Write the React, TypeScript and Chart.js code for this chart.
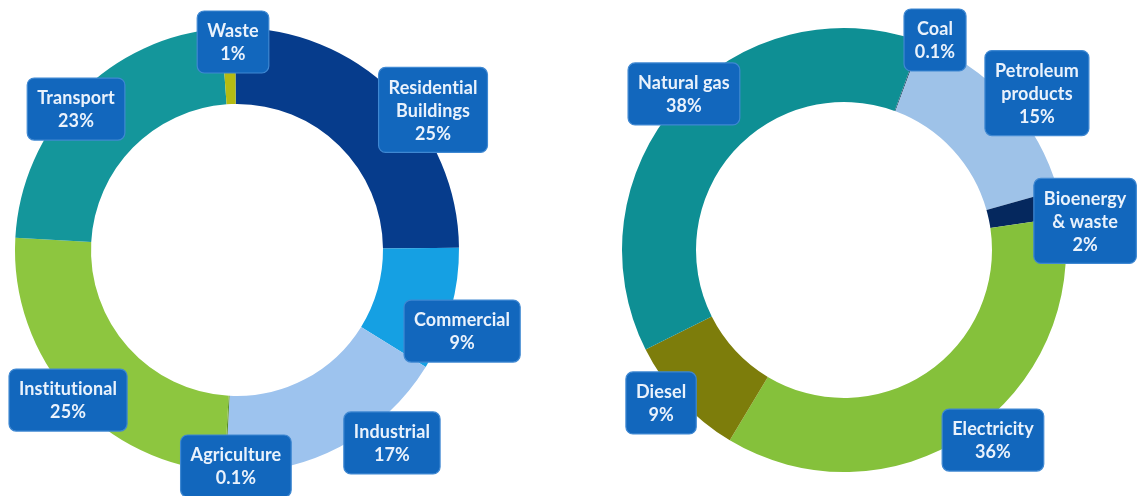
import React, { useEffect, useRef } from "react";
import { Chart, registerables } from "chart.js";

Chart.register(...registerables);

// ---- Data: energy use by sector (left ring) ----
const sectorNames = ["Residential Buildings", "Commercial", "Industrial", "Agriculture", "Institutional", "Transport", "Waste"];
const sectorTagLines = [["Residential", "Buildings"], ["Commercial"], ["Industrial"], ["Agriculture"], ["Institutional"], ["Transport"], ["Waste"]];
const sectorValues = [25, 9, 17, 0.1, 25, 23, 1];
const sectorColors = ["#063c8c", "#15a0e3", "#9dc3ee", "#5b8f2a", "#8dc63f", "#14969b", "#b4bb13"];

// ---- Data: energy use by fuel (right ring) ----
const fuelNames = ["Coal", "Petroleum products", "Bioenergy & waste", "Electricity", "Diesel", "Natural gas"];
const fuelTagLines = [["Coal"], ["Petroleum", "products"], ["Bioenergy", "& waste"], ["Electricity"], ["Diesel"], ["Natural gas"]];
const fuelValues = [0.1, 15, 2, 36, 9, 38];
const fuelColors = ["#3a5a7a", "#9ec2e8", "#05285e", "#85c13b", "#7d7d0b", "#0e8f94"];

// ---- Label placement (relative to ring centre, in units of outer radius) ----
const sectorTagPos = [[0.883, -0.631], [1.014, 0.365], [0.698, 0.869], [-0.005, 0.973], [-0.761, 0.676], [-0.725, -0.635], [-0.018, -0.937]];
const fuelTagPos = [[0.41, -0.946], [0.869, -0.707], [1.086, -0.131], [0.671, 0.856], [-0.824, 0.689], [-0.721, -0.703]];

const tagPlugin = {
  id: "tags",
  afterDatasetsDraw(chart: any, _args: any, opts: any) {
    const meta = chart.getDatasetMeta(0);
    const ctx = chart.ctx as CanvasRenderingContext2D;
    const values = chart.data.datasets[0].data as number[];
    const fontSize = 18;
    const lineH = 23;
    const padX = 10;
    const padY = 8;
    ctx.save();
    ctx.font = `bold ${fontSize}px Lato, "DejaVu Sans", sans-serif`;
    (ctx as any).letterSpacing = "0.1px";
    ctx.textAlign = "center";
    ctx.textBaseline = "middle";
    meta.data.forEach((arc: any, i: number) => {
      const p = arc.getProps(["x", "y", "outerRadius"], true);
      const pos = opts.pos[i];
      const cx = p.x + pos[0] * p.outerRadius;
      const cy = p.y + pos[1] * p.outerRadius;
      const lines = [...opts.lines[i], String(values[i]) + "%"];
      let tw = 0;
      lines.forEach((l: string) => {
        tw = Math.max(tw, ctx.measureText(l).width);
      });
      const w = Math.max(tw + 2 * padX, 62);
      const h = lines.length * lineH + 2 * padY;
      const x0 = cx - w / 2;
      const y0 = cy - h / 2;
      ctx.beginPath();
      (ctx as any).roundRect(x0, y0, w, h, 7);
      ctx.fillStyle = "#1267bd";
      ctx.fill();
      ctx.lineWidth = 1.2;
      ctx.strokeStyle = "#3f88d2";
      ctx.stroke();
      ctx.fillStyle = "#eaf2fc";
      lines.forEach((l: string, k: number) => {
        ctx.fillText(l, cx, y0 + padY + lineH * (k + 0.5) + 1);
      });
    });
    ctx.restore();
  },
};

function Ring(props: {
  names: string[];
  values: number[];
  colors: string[];
  lines: string[][];
  pos: number[][];
  rotation: number;
  cutout: number;
  padding: { left: number; right: number; top: number; bottom: number };
  left: number;
}) {
  const ref = useRef<HTMLCanvasElement | null>(null);
  useEffect(() => {
    if (!ref.current) return;
    const chart = new Chart(ref.current, {
      type: "doughnut",
      data: {
        labels: props.names,
        datasets: [
          {
            data: props.values,
            backgroundColor: props.colors,
            borderWidth: 0,
          },
        ],
      },
      options: {
        responsive: false,
        animation: false,
        rotation: props.rotation,
        cutout: props.cutout,
        layout: { padding: props.padding },
        plugins: {
          legend: { display: false },
          tooltip: { enabled: false },
          tags: { lines: props.lines, pos: props.pos },
        } as any,
      },
      plugins: [tagPlugin as any],
    });
    return () => chart.destroy();
  }, []);
  return (
    <canvas
      ref={ref}
      width={569}
      height={496}
      style={{ position: "absolute", left: props.left, top: 0, width: 569, height: 496 }}
    />
  );
}

export default function App() {
  return (
    <div style={{ position: "absolute", left: 0, top: 0, width: 1138, height: 496, background: "#ffffff", overflow: "hidden" }}>
      <Ring
        names={sectorNames}
        values={sectorValues}
        colors={sectorColors}
        lines={sectorTagLines}
        pos={sectorTagPos}
        rotation={-0.5}
        cutout={146}
        padding={{ left: 15, right: 110, top: 28, bottom: 24 }}
        left={0}
      />
      <Ring
        names={fuelNames}
        values={fuelValues}
        colors={fuelColors}
        lines={fuelTagLines}
        pos={fuelTagPos}
        rotation={20}
        cutout={148}
        padding={{ left: 53, right: 72, top: 28, bottom: 24 }}
        left={569}
      />
    </div>
  );
}
